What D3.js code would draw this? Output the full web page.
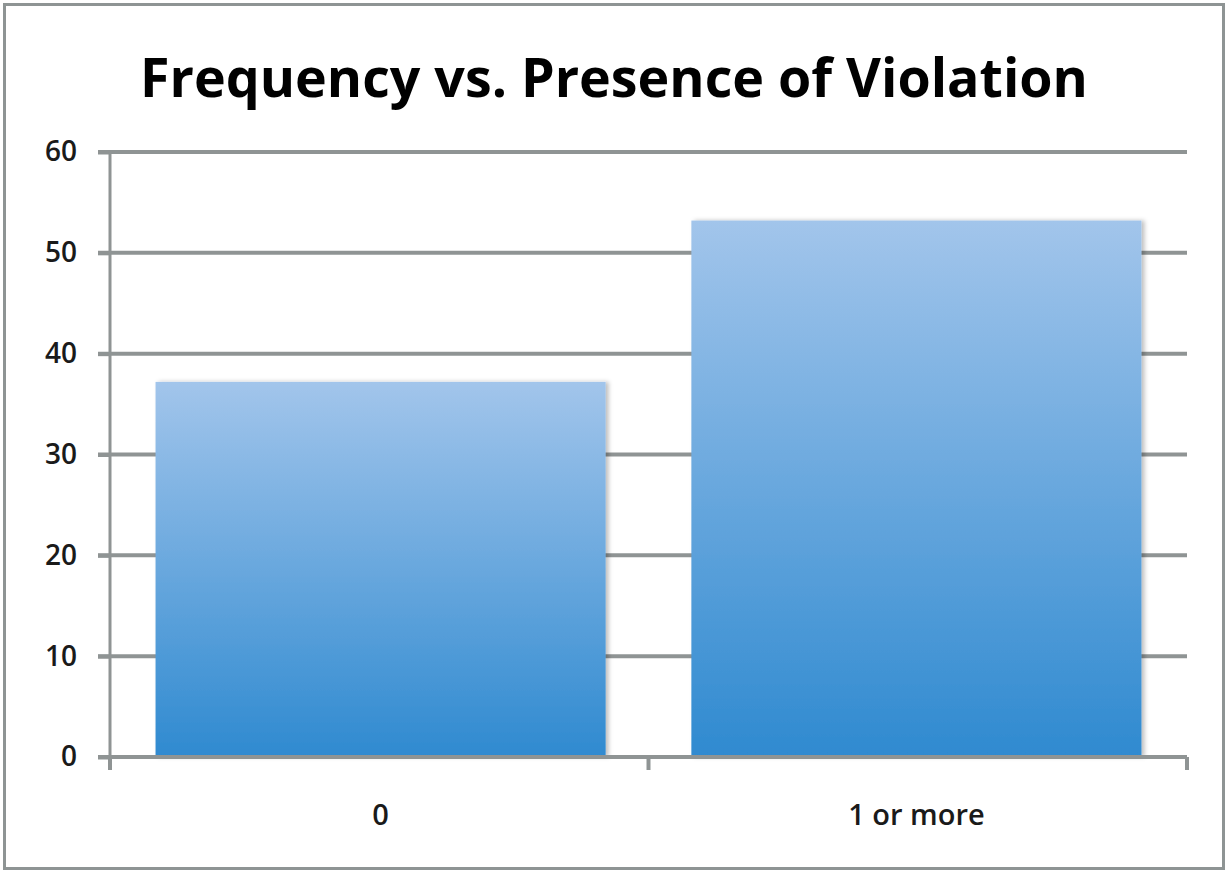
<!DOCTYPE html>
<html>
<head>
<meta charset="utf-8">
<script src="https://cdn.jsdelivr.net/npm/d3@7"></script>
<style>
  html, body { margin: 0; padding: 0; background: #fff; }
  svg { display: block; font-family: "Open Sans", "Liberation Sans", sans-serif; }
</style>
</head>
<body>
<svg id="chart"></svg>
<script>
var categories = ['0', '1 or more'];
var frequency = [37.2, 53.2];
var yTicks = [0, 10, 20, 30, 40, 50, 60];
var title = 'Frequency vs. Presence of Violation';

var width = 1228,
    height = 873,
    margin = {top: 152, right: 41, bottom: 116, left: 110};

var svg = d3.select('#chart').attr('width', width).attr('height', height);

// outer frame
svg.append('rect')
  .attr('x', 4.5).attr('y', 4.5)
  .attr('width', width - 9).attr('height', height - 9)
  .attr('fill', '#fff')
  .attr('stroke', '#8e9494')
  .attr('stroke-width', 3);

var defs = svg.append('defs');
var grad = defs.append('linearGradient')
  .attr('id', 'barGrad')
  .attr('x1', 0).attr('y1', 0).attr('x2', 0).attr('y2', 1);
grad.append('stop').attr('offset', '0%').attr('stop-color', '#a2c5eb');
grad.append('stop').attr('offset', '100%').attr('stop-color', '#2f8ad0');

var shadow = defs.append('filter').attr('id', 'shadow')
  .attr('x', '-5%').attr('y', '-5%').attr('width', '115%').attr('height', '110%');
shadow.append('feDropShadow')
  .attr('dx', 3).attr('dy', 0).attr('stdDeviation', 2)
  .attr('flood-color', '#000').attr('flood-opacity', 0.25);

var x = d3.scaleBand()
  .domain(categories)
  .range([margin.left, width - margin.right])
  .paddingInner(0.16)
  .paddingOuter(0.085);

var y = d3.scaleLinear()
  .domain([0, 60])
  .range([height - margin.bottom, margin.top]);

// title, sized to span the same width as the original
var titleText = svg.append('text')
  .attr('x', 614)
  .attr('y', 97)
  .attr('text-anchor', 'middle')
  .attr('font-size', 50)
  .attr('font-weight', 'bold')
  .attr('fill', '#000')
  .text(title);
var tw = titleText.node().getComputedTextLength();
if (tw > 0) titleText.attr('font-size', 50 * 948 / tw);

// gridlines
svg.append('g')
  .selectAll('line')
  .data(yTicks.filter(function(d){ return d > 0; }))
  .enter()
    .append('line')
    .attr('x1', margin.left - 12)
    .attr('x2', width - margin.right)
    .attr('y1', function(d){ return y(d); })
    .attr('y2', function(d){ return y(d); })
    .attr('stroke', '#8f9494')
    .attr('stroke-width', 4);

// bars
svg.append('g')
  .selectAll('rect')
  .data(frequency)
  .enter()
    .append('rect')
    .attr('x', function(d, i){ return x(categories[i]); })
    .attr('y', function(d){ return y(d); })
    .attr('width', x.bandwidth())
    .attr('height', function(d){ return y(0) - y(d); })
    .attr('fill', 'url(#barGrad)')
    .attr('filter', 'url(#shadow)');

// y axis
var yAxis = svg.append('g')
  .attr('transform', 'translate(' + margin.left + ',0)')
  .call(d3.axisLeft(y).tickValues(yTicks).tickSize(12).tickPadding(21));
yAxis.selectAll('line').attr('stroke', '#8f9494').attr('stroke-width', 4);
yAxis.select('.domain').attr('stroke', '#8f9494').attr('stroke-width', 3)
  .attr('d', 'M0,' + y(60) + 'V' + y(0));
yAxis.selectAll('text')
  .attr('font-size', 28)
  .attr('font-weight', 600)
  .attr('fill', '#1a1a1a')
  .style('font-family', '"Open Sans", "Liberation Sans", sans-serif');

// x axis
var xAxis = svg.append('g')
  .attr('transform', 'translate(0,' + y(0) + ')');
xAxis.append('line')
  .attr('x1', margin.left - 12).attr('x2', width - margin.right)
  .attr('y1', 0).attr('y2', 0)
  .attr('stroke', '#8f9494').attr('stroke-width', 4);
var boundaries = [margin.left, margin.left + (width - margin.right - margin.left) / 2, width - margin.right];
xAxis.selectAll('line.tick')
  .data(boundaries)
  .enter()
    .append('line')
    .attr('class', 'tick')
    .attr('x1', function(d){ return d; })
    .attr('x2', function(d){ return d; })
    .attr('y1', 0).attr('y2', 13)
    .attr('stroke', '#8f9494').attr('stroke-width', 4);
xAxis.selectAll('text')
  .data(categories)
  .enter()
    .append('text')
    .attr('x', function(d){ return x(d) + x.bandwidth() / 2; })
    .attr('y', 68)
    .attr('text-anchor', 'middle')
    .attr('font-size', 29)
    .attr('font-weight', 600)
    .attr('fill', '#1a1a1a')
    .text(function(d){ return d; });
</script>
</body>
</html>
